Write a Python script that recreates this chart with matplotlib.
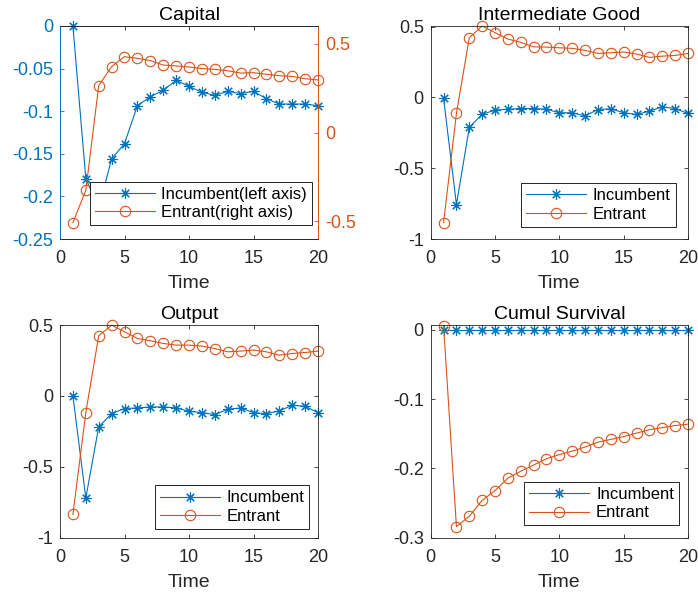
import numpy as np
import matplotlib
matplotlib.use("Agg")
import matplotlib.pyplot as plt

plt.rcParams['font.family'] = ['Liberation Sans', 'DejaVu Sans']
plt.rcParams['axes.unicode_minus'] = False

# DATA
t = np.arange(1, 21)

cap_inc = [0, -0.179, -0.214, -0.156, -0.138, -0.0936, -0.083, -0.0755, -0.0637, -0.0708,
           -0.0778, -0.0814, -0.0767, -0.0794, -0.0767, -0.0853, -0.0916, -0.0916, -0.0916, -0.0936]
cap_ent = [-0.508, -0.326, 0.264, 0.371, 0.427, 0.418, 0.405, 0.380, 0.375, 0.369,
           0.360, 0.356, 0.348, 0.335, 0.337, 0.328, 0.320, 0.316, 0.303, 0.296]

int_inc = [-0.005, -0.757, -0.212, -0.118, -0.090, -0.083, -0.078, -0.078, -0.083, -0.108,
           -0.108, -0.130, -0.085, -0.080, -0.108, -0.120, -0.097, -0.066, -0.078, -0.113]
int_ent = [-0.884, -0.113, 0.422, 0.505, 0.458, 0.413, 0.389, 0.358, 0.356, 0.351,
           0.347, 0.333, 0.311, 0.316, 0.321, 0.307, 0.283, 0.292, 0.297, 0.311]

out_inc = [0, -0.720, -0.219, -0.125, -0.089, -0.085, -0.078, -0.078, -0.085, -0.108,
           -0.118, -0.132, -0.094, -0.085, -0.118, -0.125, -0.106, -0.066, -0.073, -0.118]
out_ent = [-0.836, -0.118, 0.424, 0.499, 0.452, 0.405, 0.389, 0.370, 0.358, 0.358,
           0.351, 0.334, 0.311, 0.316, 0.323, 0.311, 0.287, 0.299, 0.306, 0.316]

surv_inc = [0] * 20
surv_ent = [0.006, -0.284, -0.269, -0.246, -0.232, -0.214, -0.204, -0.195, -0.186, -0.180,
            -0.175, -0.169, -0.162, -0.158, -0.154, -0.149, -0.144, -0.141, -0.138, -0.136]

xticks = [0, 5, 10, 15, 20]

# STYLE
blue = '#0072BD'
orange = '#D95319'
axcol = '#262626'
star = (8, 2, 0)
ms = 7.5
lw = 0.8

leg_kw = dict(fontsize=12, frameon=True, fancybox=False, shadow=False, framealpha=1,
              edgecolor='black', handlelength=3.6, handletextpad=0.4, borderpad=0.3,
              labelspacing=0.2, borderaxespad=0)


def style_axes(ax):
    for s in ax.spines.values():
        s.set_color(axcol)
        s.set_linewidth(0.6)
    ax.tick_params(direction='in', length=3, width=0.6, labelsize=13, colors=axcol,
                   top=True, right=True, pad=5)
    ax.tick_params(axis='x', pad=8)
    ax.set_xlim(0, 20)
    ax.set_xticks(xticks)
    ax.set_xticklabels([str(v) for v in xticks])
    ax.set_xlabel('Time', fontsize=14, color=axcol, labelpad=6)


def plot_pair(ax, inc, ent, labels):
    l1, = ax.plot(t, inc, color=blue, lw=lw, marker=star, ms=ms, mew=lw, label=labels[0])
    l2, = ax.plot(t, ent, color=orange, lw=lw, marker='o', ms=ms, mfc='none', mew=lw,
                  label=labels[1])
    return l1, l2


def fmt(v):
    return '%g' % v


fig = plt.figure(figsize=(6.98, 5.94), dpi=100)

pos = {
    'cap': [60 / 698, 1 - 239 / 594, 258 / 698, 213 / 594],
    'int': [430.7 / 698, 1 - 239 / 594, 257.3 / 698, 213 / 594],
    'out': [60 / 698, 1 - 537.7 / 594, 258 / 698, 212.7 / 594],
    'surv': [430.7 / 698, 1 - 537.7 / 594, 257.3 / 698, 212.7 / 594],
}

# Capital (two y axes)
ax1 = fig.add_axes(pos['cap'])
style_axes(ax1)
ax1.tick_params(right=False)
ax2 = ax1.twinx()
l1, = ax1.plot(t, cap_inc, color=blue, lw=lw, marker=star, ms=ms, mew=lw,
               label='Incumbent(left axis)')
l2, = ax2.plot(t, cap_ent, color=orange, lw=lw, marker='o', ms=ms, mfc='none', mew=lw,
               label='Entrant(right axis)')
ax1.set_ylim(-0.25, 0)
yt = [-0.25, -0.2, -0.15, -0.1, -0.05, 0]
ax1.set_yticks(yt)
ax1.set_yticklabels([fmt(v) for v in yt])
ax1.tick_params(axis='y', colors=blue)
ax2.set_ylim(-0.6, 0.6)
yt2 = [-0.5, 0, 0.5]
ax2.set_yticks(yt2)
ax2.set_yticklabels([fmt(v) for v in yt2])
for s in ax2.spines.values():
    s.set_color(axcol)
    s.set_linewidth(0.6)
ax2.spines['left'].set_color(blue)
ax2.spines['right'].set_color(orange)
ax1.spines['left'].set_color(blue)
ax1.spines['right'].set_color(orange)
ax2.tick_params(axis='y', direction='in', length=3, width=0.6, labelsize=13,
                colors=orange, pad=5)
ax1.set_title('Capital', fontsize=14, color='black', pad=4)
leg = ax2.legend(handles=[l1, l2], loc='lower right', bbox_to_anchor=(0.977, 0.066), **leg_kw)
leg.get_frame().set_linewidth(0.6)

# Intermediate Good
ax = fig.add_axes(pos['int'])
style_axes(ax)
plot_pair(ax, int_inc, int_ent, ['Incumbent', 'Entrant'])
ax.set_ylim(-1, 0.505)
yt = [-1, -0.5, 0, 0.5]
ax.set_yticks(yt)
ax.set_yticklabels([fmt(v) for v in yt])
ax.set_title('Intermediate Good', fontsize=14, color='black', pad=4)
leg = ax.legend(loc='lower right', bbox_to_anchor=(0.952, 0.058), **leg_kw)
leg.get_frame().set_linewidth(0.6)

# Output
ax = fig.add_axes(pos['out'])
style_axes(ax)
plot_pair(ax, out_inc, out_ent, ['Incumbent', 'Entrant'])
ax.set_ylim(-1, 0.5)
ax.set_yticks(yt)
ax.set_yticklabels([fmt(v) for v in yt])
ax.set_title('Output', fontsize=14, color='black', pad=4)
leg = ax.legend(loc='lower right', bbox_to_anchor=(0.966, 0.042), **leg_kw)
leg.get_frame().set_linewidth(0.6)

# Cumul Survival
ax = fig.add_axes(pos['surv'])
style_axes(ax)
plot_pair(ax, surv_inc, surv_ent, ['Incumbent', 'Entrant'])
ax.set_ylim(-0.3, 0.0072)
yt = [-0.3, -0.2, -0.1, 0]
ax.set_yticks(yt)
ax.set_yticklabels([fmt(v) for v in yt])
ax.set_title('Cumul Survival', fontsize=14, color='black', pad=4)
leg = ax.legend(loc='lower right', bbox_to_anchor=(0.965, 0.058), **leg_kw)
leg.get_frame().set_linewidth(0.6)

for a in fig.axes:
    for line in a.lines:
        line.set_clip_on(False)

fig.savefig('out.png', dpi=100)
